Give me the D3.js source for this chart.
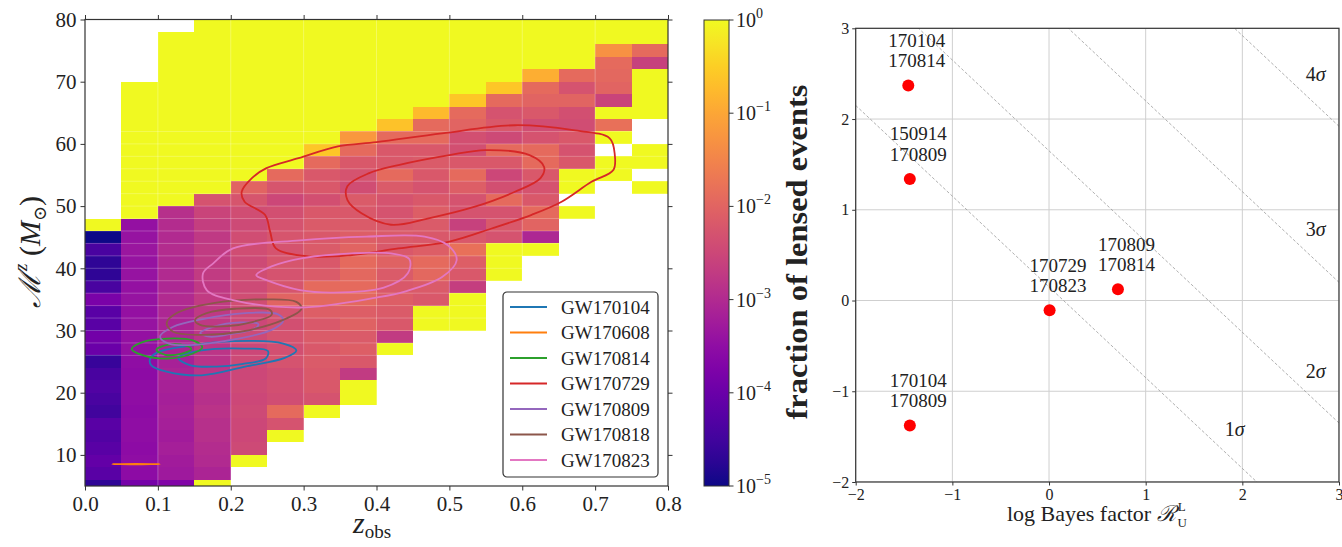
<!DOCTYPE html>
<html>
<head>
<meta charset="utf-8">
<script src="https://cdn.jsdelivr.net/npm/d3@7"></script>
<style>
  body { margin: 0; background: #fff; }
  svg text { font-family: "Liberation Serif", "DejaVu Serif", serif; fill: #222; }
</style>
</head>
<body>
<div id="chart"></div>
<script>
// ---- left panel data: fraction of lensed events per (z_obs, M^z) bin, as log10 values ----
const zEdges = [0, 0.05, 0.1, 0.15, 0.2, 0.25, 0.3, 0.35, 0.4, 0.45, 0.5, 0.55, 0.6, 0.65, 0.7, 0.75, 0.8];
const massStep = 2;                 // chirp-mass bin width
const colLo = [4, 4, 4, 4, 8, 12, 16, 18, 26, 30, 30, 38, 42, 48, 54, 52]; // lower edge of first bin per column
const colLog = [
  [-4.7,-4.2,-4.1,-4.2,-4.3,-4.2,-4.5,-4.4,-4.3,-4.4,-4.6,-4.0,-3.9,-4.2,-4.2,-3.8,-4.4,-4.7,-4.7,-4.4,-5.0,0],
  [-3.85,-3.55,-3.5,-3.55,-3.5,-3.5,-3.55,-3.5,-3.5,-3.55,-3.5,-3.45,-3.45,-3.4,-3.45,-3.4,-3.45,-3.4,-3.4,-3.35,-3.4,-3.45,0,0,0,0,0,0,0,0,0,0,0],
  [-3.7,-3.3,-3.25,-3.2,-3.25,-3.2,-3.15,-3.2,-3.15,-3.1,-3.15,-3.1,-3.05,-3.1,-3.05,-3.0,-3.05,-3.0,-3.0,-2.95,-3.0,-2.95,-2.9,0,0,0,0,0,0,0,0,0,0,0,0,0,0],
  [0,-3.1,-3.0,-2.95,-2.9,-2.9,-2.85,-2.9,-2.85,-2.8,-2.85,-2.8,-2.8,-2.75,-2.75,-2.7,-2.75,-2.7,-2.7,-2.7,-2.75,-2.65,-2.55,-2.3,0,0,0,0,0,0,0,0,0,0,0,0,0,0],
  [0,-2.45,-2.5,-2.5,-2.45,-2.5,-2.45,-2.5,-2.45,-2.5,-2.45,-2.5,-2.45,-2.4,-2.45,-2.4,-2.45,-2.4,-2.4,-2.45,-2.4,-2.25,-2.0,0,0,0,0,0,0,0,0,0,0,0,0,0],
  [0,-2.3,-1.9,-2.4,-2.35,-2.4,-2.3,-2.35,-2.3,-2.35,-2.3,-2.0,-2.25,-2.3,-2.25,-2.3,-2.25,-2.3,-2.35,-2.5,-2.25,-1.9,0,0,0,0,0,0,0,0,0,0,0,0],
  [0,-2.3,-2.2,-2.2,-2.15,-2.2,-2.15,-2.2,-2.1,-1.95,-1.9,-2.15,-2.2,-2.15,-2.2,-2.15,-2.2,-2.35,-2.2,-2.2,-1.9,-0.6,0,0,0,0,0,0,0,0,0,0],
  [0,0,-2.7,-2.2,-2.1,-2.15,-2.05,-2.1,-1.95,-1.9,-1.95,-1.9,-2.0,-2.1,-2.15,-2.2,-2.15,-2.4,-2.3,-2.2,-1.9,-1.2,0,0,0,0,0,0,0,0,0],
  [0,-2.7,-2.2,-2.15,-2.1,-2.2,-2.15,-2.05,-2.2,-2.15,-2.2,-2.3,-2.3,-2.15,-1.9,-2.2,-2.2,-1.9,-0.65,0,0,0,0,0,0,0,0],
  [0,0,-2.2,-2.15,-1.95,-1.9,-2.1,-2.2,-2.15,-2.1,-2.2,-2.3,-2.2,-2.15,-2.2,-1.9,-1.9,-0.75,0,0,0,0,0,0,0],
  [0,0,0,-2.65,-2.2,-2.1,-1.8,-2.2,-2.6,-2.3,-2.3,-2.1,-1.9,-2.2,-2.35,-2.35,-2.0,-1.9,-0.6,0,0,0,0,0,0],
  [0,0,0,-2.3,-2.2,-2.3,-1.9,-2.35,-2.5,-2.2,-1.9,-2.45,-2.2,-2.3,-1.9,-0.6,0,0,0,0,0],
  [0,-3.05,-2.0,-1.9,-2.2,-2.3,-2.2,-1.9,-1.9,-2.3,-2.4,-2.2,-2.0,-1.9,-0.9,0,0,0,0],
  [0,null,0,0,-2.2,-2.3,-2.2,-2.4,-2.35,-2.0,-2.3,-1.9,0,0,0,0],
  [0,0,null,0,-1.8,0,-2.55,-2.0,-1.95,-1.9,-1.3,0,0],
  [0,null,0,0,null,null,0,0,0,0,-2.6,-1.9,0,0]
];

const zTicks = [0, 0.1, 0.2, 0.3, 0.4, 0.5, 0.6, 0.7, 0.8];
const mTicks = [10, 20, 30, 40, 50, 60, 70, 80];
const cbarTicks = [0, -1, -2, -3, -4, -5];   // exponents

// 90% / 50% credible contours, [z_obs, M^z]
const events = ["GW170104", "GW170608", "GW170814", "GW170729", "GW170809", "GW170818", "GW170823"];
const contours = {
  GW170104: [
    [[0.089,25.3],[0.098,26.4],[0.14,27.5],[0.205,28.3],[0.272,27.9],[0.29,26.8],[0.274,25.6],[0.22,24.2],[0.16,22.8],[0.112,23.4],[0.091,24.4]],
    [[0.128,25.6],[0.16,26.8],[0.219,27.1],[0.251,26.7],[0.248,25.5],[0.215,24.6],[0.18,24.2],[0.145,24.4]]
  ],
  GW170608: [
    [[0.037,8.52],[0.07,8.56],[0.103,8.52],[0.07,8.48]]
  ],
  GW170814: [
    [[0.064,27.0],[0.078,28.1],[0.113,28.7],[0.148,28.4],[0.161,27.3],[0.148,26.3],[0.113,25.5],[0.08,26.0]],
    [[0.098,26.9],[0.113,27.7],[0.137,27.6],[0.146,27.0],[0.133,26.3],[0.11,26.1]]
  ],
  GW170729: [
    [[0.40,60.3],[0.49,61.7],[0.59,63.0],[0.67,62.2],[0.72,60.9],[0.727,58.2],[0.725,55.8],[0.695,53.9],[0.654,50.7],[0.613,48.6],[0.558,46.4],[0.50,44.3],[0.43,43.2],[0.364,42.1],[0.309,41.9],[0.262,43.2],[0.254,45.9],[0.247,48.6],[0.219,50.7],[0.215,52.3],[0.229,54.5],[0.249,56.1],[0.293,57.7],[0.347,59.6]],
    [[0.36,51.0],[0.36,53.2],[0.39,55.3],[0.43,56.6],[0.5,58.2],[0.55,59.0],[0.61,58.2],[0.63,56.3],[0.625,54.5],[0.59,52.3],[0.535,49.9],[0.47,48.0],[0.42,47.0],[0.38,48.8]]
  ],
  GW170809: [
    [[0.103,29.0],[0.121,30.6],[0.16,31.8],[0.22,32.8],[0.265,32.6],[0.272,31.6],[0.256,30.1],[0.206,28.6],[0.151,27.7],[0.115,27.9]],
    [[0.158,29.6],[0.176,30.6],[0.213,31.3],[0.238,31.0],[0.231,30.2],[0.199,29.4],[0.171,29.0]]
  ],
  GW170818: [
    [[0.112,31.2],[0.126,32.8],[0.176,34.4],[0.249,35.0],[0.29,34.6],[0.297,33.5],[0.272,31.7],[0.213,29.8],[0.157,29.3],[0.121,29.8]],
    [[0.151,31.7],[0.167,32.8],[0.206,33.5],[0.254,33.3],[0.256,32.5],[0.231,31.4],[0.195,30.7],[0.158,30.9]]
  ],
  GW170823: [
    [[0.162,39.2],[0.176,40.8],[0.203,43.2],[0.295,44.5],[0.386,45.1],[0.466,45.1],[0.498,43.7],[0.51,41.3],[0.49,38.6],[0.44,36.3],[0.40,35.3],[0.295,33.7],[0.203,34.9],[0.167,36.5]],
    [[0.235,38.9],[0.256,40.3],[0.297,41.6],[0.366,42.4],[0.42,42.4],[0.445,41.5],[0.443,39.2],[0.41,36.9],[0.341,36.1],[0.295,36.5],[0.249,38.1]]
  ]
};

// ---- right panel data ----
const pairTop = ["170104", "150914", "170729", "170809", "170104"];
const pairBottom = ["170814", "170809", "170823", "170814", "170809"];
const logBayes = [-1.456, -1.44, 0.006, 0.713, -1.44];
const logRatio = [2.37, 1.34, -0.106, 0.125, -1.377];
const sigmaC = [0.15, 1.65, 3.2, 4.92];        // lines x + y = c
const sigmaNames = ["1σ", "2σ", "3σ", "4σ"];
const sigmaLabX = [1.92, 2.76, 2.76, 2.76];
const sigmaLabY = [-1.42, -0.78, 0.79, 2.5];
const rTicks = [-2, -1, 0, 1, 2, 3];

const W = 1342, H = 547;
const svg = d3.select("#chart").append("svg")
  .attr("width", W).attr("height", H)
  .attr("viewBox", [0, 0, W, H]);

// ================= left: heat map =================
const xL = d3.scaleLinear().domain([0, 0.8]).range([85, 668]);
const yL = d3.scaleLinear().domain([5, 80]).range([486, 19.5]);
const color = lg => d3.interpolatePlasma((lg + 5) / 5);

svg.append("clipPath").attr("id", "clipL")
  .append("rect").attr("x", 85).attr("y", 19.5).attr("width", 583).attr("height", 466.5);

let cells = [];
colLog.forEach((col, i) => {
  col.forEach((v, k) => {
    if (v === null) return;
    cells.push({ z0: zEdges[i], z1: zEdges[i + 1], m0: colLo[i] + massStep * k, m1: colLo[i] + massStep * (k + 1), v: v });
  });
});

const gL = svg.append("g").attr("clip-path", "url(#clipL)");
gL.selectAll("rect.cell")
  .data(cells)
  .join("rect")
  .attr("class", "cell")
  .attr("x", d => xL(d.z0))
  .attr("y", d => yL(d.m1))
  .attr("width", d => xL(d.z1) - xL(d.z0))
  .attr("height", d => yL(d.m0) - yL(d.m1))
  .attr("fill", d => color(d.v))
  .attr("shape-rendering", "crispEdges");

// faint row seams and grid
gL.selectAll("line.seam")
  .data(d3.range(26, 63, 2))
  .join("line")
  .attr("x1", 85).attr("x2", 668)
  .attr("y1", d => yL(d)).attr("y2", d => yL(d))
  .attr("stroke", "#fff").attr("stroke-opacity", 0.3).attr("stroke-width", 0.8);
gL.selectAll("line.vgrid")
  .data(zTicks.slice(1, -1))
  .join("line")
  .attr("x1", d => xL(d)).attr("x2", d => xL(d))
  .attr("y1", 19.5).attr("y2", 486)
  .attr("stroke", "#fff").attr("stroke-opacity", 0.35).attr("stroke-width", 0.8);

// contours
const cline = d3.line()
  .x(d => xL(d[0]))
  .y(d => yL(d[1]))
  .curve(d3.curveCatmullRomClosed.alpha(0.5));
events.forEach((ev, i) => {
  contours[ev].forEach(ring => {
    gL.append("path")
      .attr("d", cline(ring))
      .attr("fill", "none")
      .attr("stroke", d3.schemeCategory10[i])
      .attr("stroke-width", 1.8);
  });
});

// axes
function styleAxis(g) {
  g.select(".domain").remove();
  g.selectAll(".tick line").attr("stroke", "#333");
  g.selectAll(".tick text").attr("fill", "#333").attr("font-family", "Liberation Serif, serif");
}
svg.append("g")
  .attr("transform", "translate(0,486)")
  .call(d3.axisBottom(xL).tickValues(zTicks).tickFormat(d3.format(".1f")).tickSize(4.5).tickPadding(6))
  .call(styleAxis)
  .selectAll("text").attr("font-size", 21);
svg.append("g")
  .attr("transform", "translate(0,19.5)")
  .call(d3.axisTop(xL).tickValues(zTicks).tickFormat("").tickSize(4.5))
  .call(styleAxis);
svg.append("g")
  .attr("transform", "translate(85,0)")
  .call(d3.axisLeft(yL).tickValues(mTicks).tickSize(4.5).tickPadding(4))
  .call(styleAxis)
  .selectAll("text").attr("font-size", 21);
svg.append("g")
  .attr("transform", "translate(668,0)")
  .call(d3.axisRight(yL).tickValues(mTicks).tickFormat("").tickSize(4.5))
  .call(styleAxis);
svg.append("rect")
  .attr("x", 85).attr("y", 19.5).attr("width", 583).attr("height", 466.5)
  .attr("fill", "none").attr("stroke", "#333").attr("stroke-width", 1.2);

// axis labels
const xlab = svg.append("text").attr("x", 372).attr("y", 533).attr("text-anchor", "middle").attr("font-size", 30);
xlab.append("tspan").attr("font-style", "italic").text("z");
xlab.append("tspan").attr("font-size", 19).attr("dy", 5).text("obs");

const ylab = svg.append("text")
  .attr("transform", "translate(40,252) rotate(-90)")
  .attr("text-anchor", "middle").attr("font-size", 30);
ylab.append("tspan").attr("font-style", "italic").text("ℳ");
ylab.append("tspan").attr("font-style", "italic").attr("font-size", 19).attr("dx", 2).attr("dy", -13).text("z");
ylab.append("tspan").attr("dy", 13).text(" (");
ylab.append("tspan").attr("font-style", "italic").text("M");
ylab.append("tspan").attr("font-size", 18).attr("dy", 6).text("⊙");
ylab.append("tspan").attr("dy", -6).text(")");

// legend
const leg = svg.append("g").attr("transform", "translate(503,292)");
leg.append("rect")
  .attr("width", 155).attr("height", 185).attr("rx", 4)
  .attr("fill", "#fff").attr("fill-opacity", 0.85)
  .attr("stroke", "#333").attr("stroke-width", 1.2);
events.forEach((ev, i) => {
  const yy = 15 + i * 25.5;
  leg.append("line")
    .attr("x1", 7).attr("x2", 44).attr("y1", yy).attr("y2", yy)
    .attr("stroke", d3.schemeCategory10[i]).attr("stroke-width", 2);
  leg.append("text")
    .attr("x", 58).attr("y", yy).attr("dy", "0.35em")
    .attr("font-size", 19).text(ev);
});

// colour bar
const cbY = d3.scaleLinear().domain([-5, 0]).range([486, 20]);
const grad = svg.append("defs").append("linearGradient")
  .attr("id", "plasma").attr("x1", 0).attr("x2", 0).attr("y1", 1).attr("y2", 0);
d3.range(0, 1.0001, 0.05).forEach(t => {
  grad.append("stop").attr("offset", t).attr("stop-color", d3.interpolatePlasma(t));
});
svg.append("rect")
  .attr("x", 704).attr("y", 20).attr("width", 25).attr("height", 466)
  .attr("fill", "url(#plasma)").attr("stroke", "#333").attr("stroke-width", 1);
const cb = svg.append("g");
cbarTicks.forEach(e => {
  cb.append("line")
    .attr("x1", 729).attr("x2", 733.5).attr("y1", cbY(e)).attr("y2", cbY(e))
    .attr("stroke", "#333");
  const t = cb.append("text").attr("x", 736).attr("y", cbY(e) + 7).attr("font-size", 20).attr("fill", "#333");
  t.append("tspan").text("10");
  t.append("tspan").attr("font-size", 14).attr("dy", -9).text(e === 0 ? "0" : "−" + (-e));
});
svg.append("text")
  .attr("transform", "translate(807,252) rotate(-90)")
  .attr("text-anchor", "middle").attr("font-size", 30).attr("font-weight", "bold")
  .attr("textLength", 335).attr("lengthAdjust", "spacingAndGlyphs")
  .text("fraction of lensed events");

// ================= right: Bayes factors =================
const xR = d3.scaleLinear().domain([-2, 3]).range([855.7, 1339]);
const yR = d3.scaleLinear().domain([-2, 3]).range([482, 28.3]);

svg.append("clipPath").attr("id", "clipR")
  .append("rect").attr("x", 855.7).attr("y", 28.3).attr("width", 483.3).attr("height", 453.7);
const gR = svg.append("g").attr("clip-path", "url(#clipR)");

gR.selectAll("line.gx").data(rTicks).join("line")
  .attr("x1", d => xR(d)).attr("x2", d => xR(d)).attr("y1", 28.3).attr("y2", 482)
  .attr("stroke", "#cfcfcf").attr("stroke-width", 1);
gR.selectAll("line.gy").data(rTicks).join("line")
  .attr("y1", d => yR(d)).attr("y2", d => yR(d)).attr("x1", 855.7).attr("x2", 1339)
  .attr("stroke", "#cfcfcf").attr("stroke-width", 1);

gR.selectAll("line.sig").data(sigmaC).join("line")
  .attr("x1", xR(-2)).attr("y1", c => yR(c + 2))
  .attr("x2", xR(3)).attr("y2", c => yR(c - 3))
  .attr("stroke", "#9a9a9a").attr("stroke-width", 0.8).attr("stroke-dasharray", "3,2");

sigmaNames.forEach((s, i) => {
  const t = svg.append("text")
    .attr("x", xR(sigmaLabX[i])).attr("y", yR(sigmaLabY[i])).attr("dy", "0.35em")
    .attr("text-anchor", "middle").attr("font-size", 20);
  t.append("tspan").text(s[0]);
  t.append("tspan").attr("font-style", "italic").text(s.slice(1));
});

svg.append("g").selectAll("circle").data(logBayes).join("circle")
  .attr("cx", (d, i) => xR(d))
  .attr("cy", (d, i) => yR(logRatio[i]))
  .attr("r", 6)
  .attr("fill", "#ff0000");

logBayes.forEach((d, i) => {
  const px = xR(d) + 8.5, py = yR(logRatio[i]);
  svg.append("text").attr("x", px).attr("y", py - 38.5).attr("text-anchor", "middle")
    .attr("font-size", 19).text(pairTop[i]);
  svg.append("text").attr("x", px).attr("y", py - 18).attr("text-anchor", "middle")
    .attr("font-size", 19).text(pairBottom[i]);
});

const fmtR = d => d < 0 ? "−" + (-d) : String(d);
svg.append("g")
  .attr("transform", "translate(0,482)")
  .call(d3.axisBottom(xR).tickValues(rTicks).tickFormat(fmtR).tickSize(3.5).tickPadding(3))
  .call(styleAxis)
  .selectAll("text").attr("font-size", 16);
svg.append("g")
  .attr("transform", "translate(855.7,0)")
  .call(d3.axisLeft(yR).tickValues(rTicks).tickFormat(fmtR).tickSize(3.5).tickPadding(3))
  .call(styleAxis)
  .selectAll("text").attr("font-size", 16);
svg.append("rect")
  .attr("x", 855.7).attr("y", 28.3).attr("width", 483.3).attr("height", 453.7)
  .attr("fill", "none").attr("stroke", "#333").attr("stroke-width", 1.2);

const xlabR = svg.append("text").attr("x", 1097).attr("y", 521).attr("text-anchor", "middle").attr("font-size", 22);
xlabR.append("tspan").text("log Bayes factor ");
xlabR.append("tspan").attr("font-style", "italic").text("ℛ");
xlabR.append("tspan").attr("font-size", 13).attr("dx", 2).attr("dy", -10).text("L");
xlabR.append("tspan").attr("font-size", 13).attr("dx", -8).attr("dy", 16).text("U");
</script>
</body>
</html>
